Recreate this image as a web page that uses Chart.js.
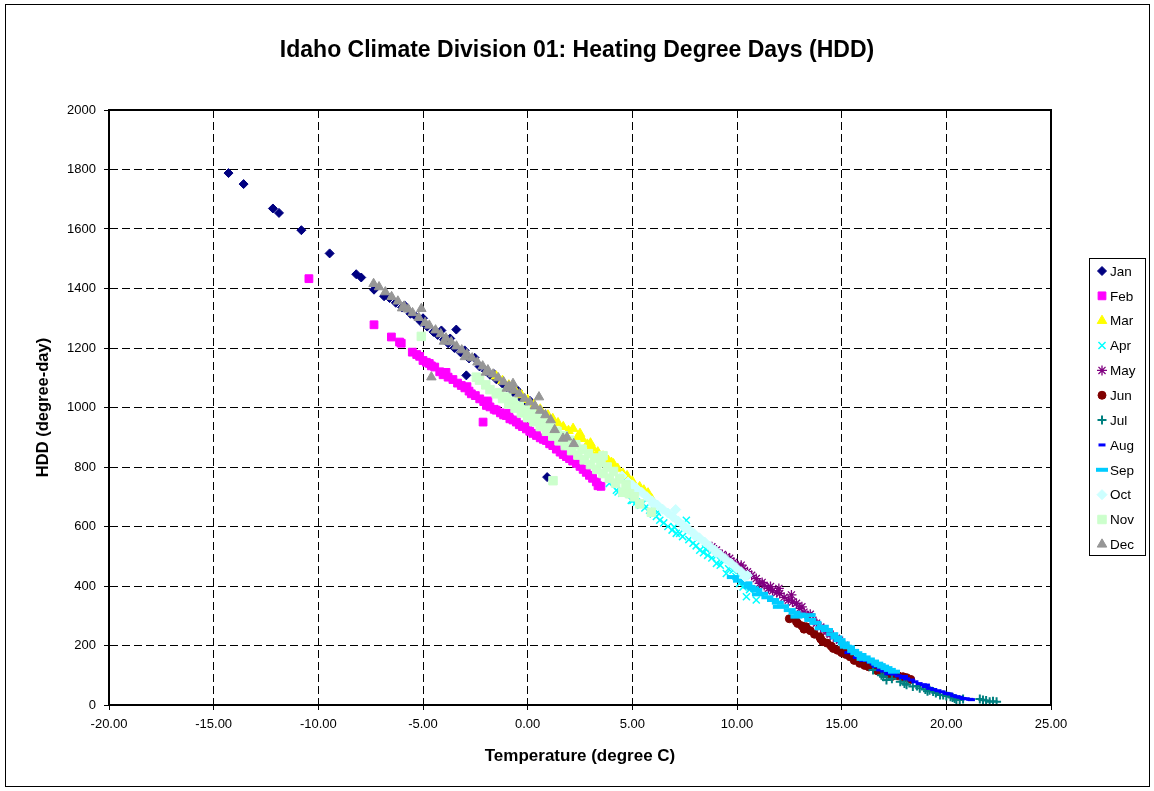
<!DOCTYPE html>
<html>
<head>
<meta charset="utf-8">
<script src="https://cdn.jsdelivr.net/npm/chart.js@4.4.1/dist/chart.umd.min.js"></script>
<style>
  html, body { margin: 0; padding: 0; background: #ffffff; }
  #c { display: block; }
</style>
</head>
<body>
<canvas id="c" width="1154" height="791"></canvas>
<script>
// ---------------- DATA ----------------
const titleText = 'Idaho Climate Division 01: Heating Degree Days (HDD)';
const xTitle = 'Temperature (degree C)';
const yTitle = 'HDD (degree-day)';
const months = ['Jan','Feb','Mar','Apr','May','Jun','Jul','Aug','Sep','Oct','Nov','Dec'];
const xTickLabels = ['-20.00','-15.00','-10.00','-5.00','0.00','5.00','10.00','15.00','20.00','25.00'];
const yTickLabels = ['0','200','400','600','800','1000','1200','1400','1600','1800','2000'];

// [temperature degC, HDD]
const jan = [[-14.29,1788],[-13.57,1751],[-12.17,1669],[-11.88,1654],[-10.81,1596],[-9.46,1518],[-8.19,1448],[-7.95,1437],
  [-7.34,1396],[-6.86,1374],[-6.6,1368],[-6.3,1352],[-6.0,1336],[-5.88,1343],[-5.6,1315],[-5.32,1304],[-5.1,1288],[-5.0,1300],
  [-4.8,1272],[-4.5,1254],[-4.3,1244],[-4.12,1259],[-4.0,1228],[-3.8,1216],[-3.7,1232],[-3.5,1200],[-3.41,1262],[-3.2,1185],
  [-3.01,1192],[-2.93,1108],[-2.8,1165],[-2.53,1167],[-2.3,1138],[-2.0,1122],[-1.8,1110],[-1.6,1112],[-1.5,1095],[-1.2,1080],
  [-1.0,1068],[-0.7,1052],[-0.48,1057],[-0.3,1030],[-0.1,1018],[0.1,1023],[0.3,998],[0.57,990],[0.8,972],[0.93,766]];
const feb = [[-10.45,1433],[-7.34,1278],[-6.51,1237],[-6.12,1220],[-6.04,1216],[-5.51,1186],[-5.3,1178],[-5.16,1172],[-5.0,1158],
  [-4.84,1152],[-4.7,1148],[-4.6,1140],[-4.44,1136],[-4.2,1120],[-4.04,1110],[-3.9,1118],[-3.8,1102],[-3.57,1094],[-3.35,1082],
  [-3.17,1074],[-3.0,1066],[-2.9,1070],[-2.8,1055],[-2.69,1046],[-2.5,1040],[-2.29,1029],[-2.13,951],[-2.1,1020],[-1.97,1007],
  [-1.9,1022],[-1.8,1002],[-1.6,994],[-1.5,991],[-1.3,982],[-1.15,975],[-1.02,973],[-0.9,980],[-0.85,962],[-0.7,958],[-0.54,951],
  [-0.4,942],[-0.25,936],[-0.06,928],[0.0,935],[0.1,920],[0.25,913],[0.42,906],[0.6,898],[0.75,893],[0.89,889],[1.0,890],
  [1.05,878],[1.2,872],[1.37,860],[1.55,850],[1.7,842],[1.85,835],[2.0,828],[2.15,820],[2.33,812],[2.5,802],[2.65,792],
  [2.8,782],[2.95,772],[3.1,762],[3.28,750],[3.36,737],[3.5,735]];
const mar = [[-1.5,1105],[-1.2,1090],[-0.9,1075],[-0.6,1058],[-0.3,1042],[0.0,1026],[0.3,1010],[0.6,994],[0.97,974],[1.0,958],
  [1.2,962],[1.45,948],[1.7,935],[1.95,922],[2.17,929],[2.4,902],[2.5,912],[2.6,895],[2.85,876],[2.96,857],[3.0,880],[3.1,865],
  [3.35,850],[3.6,836],[3.85,822],[4.0,815],[4.08,800],[4.1,810],[4.3,795],[4.55,778],[4.75,770],[5.0,752],[5.03,733],[5.35,733],
  [5.55,722],[5.75,712],[5.91,694]];
const apr = [[3.9,745],[4.24,722],[4.32,716],[4.5,712],[4.72,750],[4.95,688],[5.03,688],[5.2,682],[5.4,672],[5.5,678],[5.6,662],
  [5.83,655],[6.0,642],[6.15,634],[6.2,648],[6.31,621],[6.5,612],[6.7,600],[6.9,588],[7.0,598],[7.1,577],[7.26,577],[7.4,566],
  [7.58,621],[7.7,556],[7.9,544],[8.05,535],[8.22,520],[8.4,512],[8.5,525],[8.6,503],[8.8,494],[9.0,500],[9.02,476],[9.2,470],
  [9.33,487],[9.49,442],[9.6,458],[9.81,453],[9.95,432],[10.0,425],[10.13,409],[10.29,397],[10.45,364],[10.6,388],[10.92,353]];
const may = [[8.8,532],[9.02,521],[9.3,506],[9.49,498],[9.65,493],[9.85,480],[10.05,468],[10.2,470],[10.29,459],[10.5,448],
  [10.7,436],[10.92,425],[11.08,409],[11.2,412],[11.3,402],[11.5,392],[11.6,398],[11.7,384],[11.9,378],[12.0,392],[12.04,375],
  [12.25,362],[12.45,352],[12.6,370],[12.65,346],[12.84,342],[13.0,325],[13.1,330],[13.2,312],[13.4,300],[13.5,305],[13.63,285],
  [13.8,275],[14.0,262],[14.15,254],[14.27,246],[14.45,238],[14.6,230],[14.75,224],[14.9,218],[15.14,201]];
const jun = [[12.5,290],[12.84,280],[12.9,274],[13.1,266],[13.2,255],[13.3,263],[13.5,250],[13.7,238],[13.95,229],[14.0,222],
  [14.1,213],[14.3,208],[14.5,198],[14.6,190],[14.8,184],[15.0,176],[15.1,180],[15.2,170],[15.38,168],[15.4,162],[15.6,150],
  [15.86,140],[16.0,140],[16.1,133],[16.3,128],[16.5,129],[16.7,115],[16.8,120],[16.98,106],[17.2,104],[17.4,96],[17.5,100],
  [17.7,98],[17.93,95],[18.1,92],[18.3,86]];
const jul = [[16.5,118],[16.9,100],[17.0,95],[17.14,84],[17.4,88],[17.8,78],[18.0,72],[18.1,68],[18.4,62],[18.6,64],[18.73,56],
  [19.0,52],[19.1,46],[19.2,50],[19.37,45],[19.5,40],[19.7,34],[19.85,34],[20.0,30],[20.2,28],[20.3,25],[20.4,22],[20.48,17],
  [20.64,17],[20.8,20],[21.6,20],[21.75,17],[21.9,15],[22.07,11],[22.23,13],[22.4,11]];
const aug = [[15.3,176],[15.7,160],[16.0,150],[16.18,151],[16.34,145],[16.5,138],[16.6,130],[16.82,118],[17.0,114],[17.2,105],
  [17.3,112],[17.5,104],[17.7,98],[17.9,92],[18.0,96],[18.1,88],[18.33,84],[18.5,78],[18.7,72],[18.9,68],[19.0,62],[19.05,67],
  [19.2,56],[19.4,52],[19.6,48],[19.8,44],[20.0,39],[20.16,37],[20.35,31],[20.5,28],[20.65,26],[20.8,22],[20.95,21],[21.12,19],[21.2,18]];
const sep = [[9.8,430],[10.1,418],[10.45,409],[10.6,397],[10.77,392],[10.92,386],[11.0,372],[11.2,374],[11.45,362],[11.72,353],
  [11.95,344],[12.0,330],[12.2,332],[12.52,319],[12.75,310],[12.84,297],[13.0,304],[13.15,299],[13.47,302],[13.5,286],[13.75,276],
  [14.0,258],[14.1,263],[14.3,252],[14.55,238],[14.75,227],[14.9,218],[15.1,207],[15.2,196],[15.35,194],[15.55,182],[15.7,174],
  [15.9,168],[16.0,155],[16.1,160],[16.3,153],[16.5,146],[16.7,139],[16.82,134],[16.98,129],[17.14,124],[17.3,118],[17.5,112]];
const oct = [[4.5,770],[4.79,750],[5.0,740],[5.2,728],[5.45,715],[5.7,700],[5.95,686],[6.0,676],[6.2,672],[6.45,658],[6.7,645],
  [6.95,632],[7.07,657],[7.2,618],[7.45,604],[7.5,596],[7.7,590],[7.95,576],[8.0,568],[8.2,562],[8.45,548],[8.7,534],[8.95,520],
  [9.0,512],[9.2,505],[9.45,491],[9.7,477],[9.95,462],[10.2,448],[10.37,431],[10.5,436]];
const nov = [[-5.08,1239],[-2.45,1102],[-2.3,1092],[-2.0,1076],[-1.8,1060],[-1.5,1046],[-1.35,1050],[-1.2,1030],[-1.0,1035],
  [-0.9,1012],[-0.7,1020],[-0.6,998],[-0.4,1005],[-0.3,982],[-0.1,992],[0.0,966],[0.2,980],[0.3,952],[0.5,965],[0.6,936],
  [0.8,950],[0.9,920],[1.1,935],[1.2,904],[1.21,754],[1.4,920],[1.5,888],[1.7,905],[1.8,872],[2.0,890],[2.1,855],[2.3,875],
  [2.4,840],[2.6,860],[2.7,824],[2.9,845],[3.0,808],[3.2,830],[3.3,792],[3.5,815],[3.6,838],[3.6,778],[3.8,800],[3.9,762],
  [4.1,785],[4.2,746],[4.4,760],[4.55,715],[4.7,740],[4.87,710],[5.1,700],[5.35,676],[5.91,648]];
const dec = [[-7.36,1416],[-7.1,1405],[-6.8,1388],[-6.5,1372],[-6.2,1357],[-6.0,1334],[-5.9,1340],[-5.7,1330],[-5.5,1318],
  [-5.2,1302],[-5.08,1332],[-4.9,1285],[-4.7,1276],[-4.6,1102],[-4.4,1260],[-4.15,1247],[-4.0,1222],[-3.9,1233],[-3.65,1220],
  [-3.4,1206],[-3.15,1193],[-3.0,1170],[-2.9,1180],[-2.65,1166],[-2.4,1152],[-2.15,1139],[-2.0,1118],[-1.9,1126],[-1.65,1112],
  [-1.4,1099],[-1.15,1086],[-1.0,1064],[-0.9,1072],[-0.7,1080],[-0.65,1058],[-0.4,1045],[-0.15,1030],[0.1,1018],[0.35,1005],
  [0.54,1035],[0.6,990],[0.85,975],[1.1,958],[1.29,925],[1.69,896],[1.88,900],[2.2,878]];

const seriesData = [jan, feb, mar, apr, may, jun, jul, aug, sep, oct, nov, dec];

// ---------------- STYLES ----------------
const FONT = '"Liberation Sans", Arial, Helvetica, sans-serif';
const markerStyles = [
  { color: '#000080', style: 'rectRot',  radius: 4.5, bw: 1 },
  { color: '#FF00FF', style: 'rect',     radius: 5.5, bw: 1 },
  { color: '#FFFF00', style: 'triangle', radius: 5.5, bw: 1 },
  { color: '#00FFFF', style: 'crossRot', radius: 5,   bw: 1.5 },
  { color: '#800080', style: 'star',     radius: 5,   bw: 1.3 },
  { color: '#800000', style: 'circle',   radius: 4,   bw: 1 },
  { color: '#008080', style: 'cross',    radius: 4.5, bw: 2 },
  { color: '#0000FF', style: 'line',     radius: 3.5, bw: 3 },
  { color: '#00CCFF', style: 'line',     radius: 6,   bw: 4 },
  { color: '#CCFFFF', style: 'rectRot',  radius: 5,   bw: 1 },
  { color: '#CCFFCC', style: 'rect',     radius: 6,   bw: 1 },
  { color: '#969696', style: 'triangle', radius: 5.5, bw: 1 }
];

const datasets = seriesData.map((pts, i) => ({
  label: months[i],
  data: pts.map(p => ({ x: p[0], y: p[1] })),
  pointStyle: markerStyles[i].style,
  pointRadius: markerStyles[i].radius,
  pointHoverRadius: markerStyles[i].radius,
  pointBorderWidth: markerStyles[i].bw,
  pointBackgroundColor: markerStyles[i].color,
  pointBorderColor: markerStyles[i].color,
  showLine: false,
  order: 11 - i
}));

const frame = {
  id: 'frame',
  beforeDraw(chart) {
    const c = chart.ctx;
    c.save();
    c.fillStyle = '#ffffff';
    c.fillRect(0, 0, chart.width, chart.height);
    c.restore();
  },
  afterDraw(chart) {
    const c = chart.ctx, a = chart.chartArea;
    c.save();
    // plot area frame
    c.strokeStyle = '#000';
    c.lineWidth = 2;
    c.strokeRect(Math.round(a.left), Math.round(a.top), Math.round(a.right - a.left), Math.round(a.bottom - a.top));
    // outer chart border
    c.lineWidth = 1;
    c.strokeRect(5.5, 4.5, 1144, 782);
    // title
    c.fillStyle = '#000';
    c.font = 'bold 23px ' + FONT;
    c.textAlign = 'center';
    c.textBaseline = 'middle';
    c.fillText(titleText, 577, 51);
    // legend
    const lx = 1089.5, ly = 258.5, lw = 56, lh = 297;
    c.strokeStyle = '#000';
    c.lineWidth = 1;
    c.strokeRect(lx, ly, lw, lh);
    c.font = '13.5px ' + FONT;
    c.textBaseline = 'middle';
    c.textAlign = 'left';
    months.forEach((m, i) => {
      const y = 271 + i * 24.85;
      const ms = markerStyles[i];
      c.fillStyle = ms.color;
      c.strokeStyle = ms.color;
      c.lineWidth = ms.bw;
      if (Chart.helpers && Chart.helpers.drawPoint) {
        Chart.helpers.drawPoint(c, { pointStyle: ms.style, radius: ms.radius, rotation: 0, borderWidth: ms.bw }, 1102, y);
      }
      c.fillStyle = '#000';
      c.fillText(m, 1110, y + 1);
    });
    c.restore();
  }
};

new Chart(document.getElementById('c'), {
  type: 'scatter',
  data: { datasets },
  plugins: [frame],
  options: {
    responsive: false,
    animation: false,
    devicePixelRatio: 1,
    layout: { padding: { left: 0, right: 103, top: 110, bottom: 0 } },
    plugins: {
      legend: { display: false },
      tooltip: { enabled: false },
      title: { display: false }
    },
    scales: {
      x: {
        type: 'linear', min: -20, max: 25,
        afterFit(s) { s.height = 86; },
        afterBuildTicks(s) { s.ticks = xTickLabels.map(t => ({ value: parseFloat(t) })); },
        ticks: {
          stepSize: 5, autoSkip: false, maxRotation: 0, padding: 7, color: '#000',
          font: { family: FONT, size: 13 },
          callback: (v, i) => xTickLabels[i]
        },
        grid: { color: '#000', lineWidth: 1, drawTicks: true, tickLength: 5, tickColor: '#000' },
        border: { display: true, color: '#000', width: 2, dash: [8, 4] },
        title: { display: true, text: xTitle, color: '#000', font: { family: FONT, size: 17, weight: 'bold' }, padding: { top: 0, bottom: 24 } }
      },
      y: {
        type: 'linear', min: 0, max: 2000,
        afterFit(s) { s.width = 109; },
        afterBuildTicks(s) { s.ticks = yTickLabels.map(t => ({ value: parseFloat(t) })); },
        ticks: {
          stepSize: 200, autoSkip: false, padding: 8, color: '#000',
          font: { family: FONT, size: 13 },
          callback: (v, i) => yTickLabels[i]
        },
        grid: { color: '#000', lineWidth: 1, drawTicks: true, tickLength: 5, tickColor: '#000' },
        border: { display: true, color: '#000', width: 2, dash: [8, 4] },
        title: { display: true, text: yTitle, color: '#000', font: { family: FONT, size: 16.5, weight: 'bold' }, padding: { top: 34, bottom: 0 } }
      }
    }
  }
});
</script>
</body>
</html>
